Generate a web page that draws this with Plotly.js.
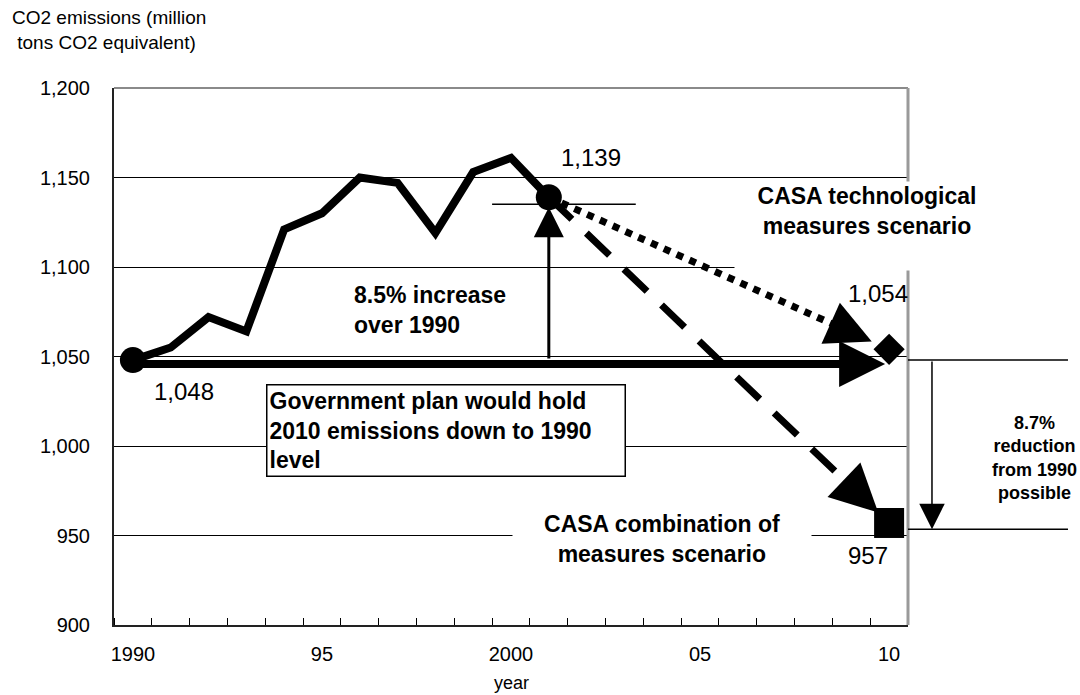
<!DOCTYPE html>
<html>
<head>
<meta charset="utf-8">
<script src="https://cdn.plot.ly/plotly-3.0.1.min.js"></script>
<style>
  html, body { margin: 0; padding: 0; background: #fff; }
  #chart { width: 1080px; height: 695px; }
</style>
</head>
<body>
<div id="chart"></div>
<script>
// ---- data ----
const years = [1990, 1991, 1992, 1993, 1994, 1995, 1996, 1997, 1998, 1999, 2000, 2001];
const emissions = [1048, 1055, 1072, 1064, 1121, 1130, 1150, 1147, 1119, 1153, 1161, 1139];
const targetYear = 2010;
const techScenario = 1054;    // CASA technological measures scenario
const comboScenario = 957;    // CASA combination of measures scenario
const xTickVals = [1990, 1995, 2000, 2005, 2010];
const xTickText = ['1990', '95', '2000', '05', '10'];
const yTickVals = [900, 950, 1000, 1050, 1100, 1150, 1200];

// ---- derived ----
const baseYear = years[0];
const baseValue = emissions[0];
const lastYear = years[years.length - 1];
const lastValue = emissions[emissions.length - 1];
const fmt = v => v.toLocaleString('en-US');
function along(x0, y0, x1, y1, t) { return [x0 + (x1 - x0) * t, y0 + (y1 - y0) * t]; }

const techLineEnd = along(lastYear, lastValue, targetYear, techScenario, 0.90);
const techTail = along(lastYear, lastValue, targetYear, techScenario, 0.875);
const comboLineEnd = along(lastYear, lastValue, targetYear, comboScenario, 0.92);
const comboTail = along(lastYear, lastValue, targetYear, comboScenario, 0.905);

const FONT = 'Liberation Sans, Arial, Helvetica, sans-serif';
const BLACK = '#000';

const traces = [
  { x: years, y: emissions, mode: 'lines', line: { color: BLACK, width: 8 }, hoverinfo: 'skip' },
  { x: [lastYear, techLineEnd[0]], y: [lastValue, techLineEnd[1]], mode: 'lines',
    line: { color: BLACK, width: 7, dash: '7px,7px' }, hoverinfo: 'skip' },
  { x: [lastYear, comboLineEnd[0]], y: [lastValue, comboLineEnd[1]], mode: 'lines',
    line: { color: BLACK, width: 7, dash: '32px,20px' }, hoverinfo: 'skip' },
  { x: [baseYear, lastYear], y: [baseValue, lastValue], mode: 'markers',
    marker: { symbol: 'circle', size: 26, color: BLACK }, hoverinfo: 'skip' },
  { x: [targetYear], y: [techScenario], mode: 'markers',
    marker: { symbol: 'diamond', size: 24, color: BLACK }, hoverinfo: 'skip' },
  { x: [targetYear], y: [comboScenario], mode: 'markers',
    marker: { symbol: 'square', size: 30, color: BLACK }, hoverinfo: 'skip' }
];

const boldFont = { family: FONT, size: 23, color: BLACK, weight: 'bold' };
const valFont = { family: FONT, size: 24, color: BLACK };

const annotations = [
  // axis titles
  { xref: 'paper', yref: 'paper', x: -0.131, y: 1.108, xanchor: 'left', yanchor: 'middle', align: 'left',
    text: 'CO2 emissions (million<br>\u00a0tons CO2 equivalent)', showarrow: false,
    font: { family: FONT, size: 19, color: BLACK } },
  { xref: 'paper', yref: 'paper', x: 0.5, y: -0.108, xanchor: 'center', yanchor: 'middle',
    text: 'year', showarrow: false, font: { family: FONT, size: 18, color: BLACK } },

  // value labels
  { x: lastYear, y: lastValue, xshift: 42, yshift: 40, text: fmt(lastValue), showarrow: false, font: valFont },
  { x: baseYear, y: baseValue, xshift: 51, yshift: -31, text: fmt(baseValue), showarrow: false, font: valFont },
  { x: targetYear, y: techScenario, xshift: -11, yshift: 56, text: fmt(techScenario), showarrow: false, font: valFont },
  { x: targetYear, y: comboScenario, xshift: -21, yshift: -33, text: fmt(comboScenario), showarrow: false, font: valFont },

  // explanatory labels
  { xref: 'paper', yref: 'paper', x: 0.948, y: 0.8268, xanchor: 'center', yanchor: 'top', valign: 'top',
    text: 'CASA technological<br>measures scenario', showarrow: false, font: boldFont,
    bgcolor: '#fff', width: 262, height: 86 },
  { xref: 'paper', yref: 'paper', x: 0.2997, y: 0.5866, xanchor: 'left', yanchor: 'middle', align: 'left',
    text: '8.5% increase<br>over 1990', showarrow: false, font: boldFont },
  { xref: 'paper', yref: 'paper', x: 0.1914, y: 0.4488, xanchor: 'left', yanchor: 'top', align: 'left',
    text: 'Government plan would hold<br>2010 emissions down to 1990<br>level', showarrow: false, font: boldFont,
    bgcolor: '#fff', bordercolor: BLACK, borderwidth: 1.5, borderpad: 2, width: 353, height: 86 },
  { xref: 'paper', yref: 'paper', x: 0.690, y: 0.160, xanchor: 'center', yanchor: 'middle',
    text: 'CASA combination of<br>measures scenario', showarrow: false, font: boldFont,
    bgcolor: '#fff', width: 296 },
  { xref: 'paper', yref: 'paper', x: 1.1596, y: 0.311, xanchor: 'center', yanchor: 'middle',
    text: '8.7%<br>reduction<br>from 1990<br>possible', showarrow: false,
    font: { family: FONT, size: 18, color: BLACK, weight: 'bold' } },

  // arrows
  { x: targetYear, y: baseValue, ax: baseYear, ay: baseValue, axref: 'x', ayref: 'y', text: '',
    showarrow: true, arrowhead: 2, arrowwidth: 8, arrowsize: 1.15, standoff: 4, yshift: -4, arrowcolor: BLACK },
  { x: lastYear, y: lastValue, ax: lastYear, ay: baseValue, axref: 'x', ayref: 'y', text: '',
    showarrow: true, arrowhead: 2, arrowwidth: 3, arrowsize: 2.0, standoff: 10, arrowcolor: BLACK },
  { x: targetYear, y: techScenario, ax: techTail[0], ay: techTail[1], axref: 'x', ayref: 'y', text: '',
    showarrow: true, arrowhead: 2, arrowwidth: 1, arrowsize: 9, standoff: 19, arrowcolor: BLACK },
  { x: targetYear, y: comboScenario, ax: comboTail[0], ay: comboTail[1], axref: 'x', ayref: 'y', text: '',
    showarrow: true, arrowhead: 2, arrowwidth: 1, arrowsize: 9.5, standoff: 15, arrowcolor: BLACK },
  { xref: 'paper', x: 1.0302, y: comboScenario - 3.5, axref: 'pixel', ax: 0, ayref: 'y', ay: baseValue, text: '',
    showarrow: true, arrowhead: 2, arrowwidth: 1.5, arrowsize: 3.4, standoff: 0, arrowcolor: BLACK }
];

const shapes = [
  // top and right frame (grey)
  { type: 'line', xref: 'paper', yref: 'paper', x0: 0, x1: 1, y0: 1, y1: 1, line: { color: '#8a8a8a', width: 2 } },
  { type: 'line', xref: 'paper', yref: 'paper', x0: 1, x1: 1, y0: 0, y1: 1, line: { color: '#9a9a9a', width: 3 } },
  // short reference line at the 2001 level
  { type: 'line', xref: 'x', yref: 'y', x0: lastYear - 1.5, x1: lastYear + 2.3, y0: lastValue - 4, y1: lastValue - 4,
    line: { color: BLACK, width: 1.5 } },
  // bracket lines outside plot on the right
  { type: 'line', xref: 'paper', yref: 'y', x0: 1, x1: 1.2015, y0: baseValue, y1: baseValue, line: { color: BLACK, width: 1.5 } },
  { type: 'line', xref: 'paper', yref: 'y', x0: 1, x1: 1.2015, y0: comboScenario - 3.5, y1: comboScenario - 3.5,
    line: { color: BLACK, width: 1.5 } }
];

const layout = {
  width: 1080, height: 695,
  margin: { l: 114, r: 172, t: 88, b: 70, pad: 0 },
  paper_bgcolor: '#fff', plot_bgcolor: '#fff',
  showlegend: false, hovermode: false,
  font: { family: FONT, color: BLACK },
  xaxis: {
    range: [1989.5, 2010.5], tickmode: 'array', tickvals: xTickVals, ticktext: xTickText,
    ticks: '', showgrid: false, zeroline: false, showline: true, linecolor: '#222', linewidth: 2,
    tickfont: { family: FONT, size: 20, color: BLACK }, ticklabelstandoff: 10,
    minor: { tick0: 1989.5, dtick: 1, ticks: 'inside', ticklen: 7, tickwidth: 1, tickcolor: BLACK, showgrid: false }
  },
  yaxis: {
    range: [900, 1200], tickmode: 'array', tickvals: yTickVals, tickformat: ',',
    ticks: 'inside', ticklen: 6, tickwidth: 1, tickcolor: BLACK,
    showgrid: true, gridcolor: BLACK, gridwidth: 1, zeroline: false,
    showline: true, linecolor: '#222', linewidth: 2,
    tickfont: { family: FONT, size: 20, color: BLACK }, ticklabelstandoff: 18
  },
  annotations: annotations,
  shapes: shapes
};

Plotly.newPlot('chart', traces, layout, { displayModeBar: false, staticPlot: true });
</script>
</body>
</html>
